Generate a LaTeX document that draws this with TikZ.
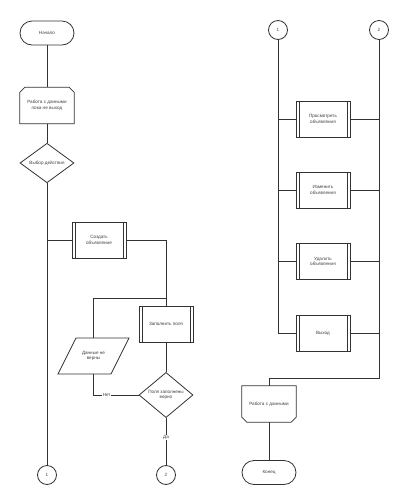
\documentclass[tikz,border=0pt]{standalone}
\usepackage{fontspec}
\setmainfont{Liberation Sans}
\usetikzlibrary{shapes.geometric,calc}
\tikzset{
  ln/.style={draw=black!80, line width=0.8pt},
  txt/.style={font=\fontsize{4.6}{5.6}\selectfont, text=black!75, align=center, inner sep=0pt},
  term/.style={txt, ln, rectangle, rounded corners=12pt, minimum width=54pt, minimum height=24pt},
  proc/.style={txt, ln, rectangle, minimum width=54pt, minimum height=36pt,
    path picture={
      \draw[black!80, line width=0.6pt] ([xshift=3pt]path picture bounding box.north west) -- ([xshift=3pt]path picture bounding box.south west);
      \draw[black!80, line width=0.6pt] ([xshift=-3pt]path picture bounding box.north east) -- ([xshift=-3pt]path picture bounding box.south east);
    }},
  dec/.style={txt, ln, diamond, minimum width=54pt, minimum height=36pt},
  hidden/.style={txt, rectangle, minimum width=54pt, minimum height=36pt},
  conn/.style={txt, ln, circle, minimum size=19pt},
  lab/.style={txt, fill=white, inner sep=0.5pt},
}
\begin{document}
\begin{tikzpicture}[x=1pt,y=-1pt]
\useasboundingbox (0,0) rectangle (407,491);
\fill[white] (0,0) rectangle (407,491);

% ---- left part ----
\node[term] (start) at (47,33) {Начало};
\node[hidden] (loop1) at (47,105.5) {Работа с данными\\пока не выход};
\draw[ln] ($(loop1.south west)$) -- ($(loop1.north west)+(0,5)$) -- ($(loop1.north west)+(5,0)$)
  -- ($(loop1.north east)+(-5,0)$) -- ($(loop1.north east)+(0,5)$) -- (loop1.south east) -- cycle;
\node[dec] (choice) at (47,163) {Выбор действия};
\node[proc] (create) at (99,240) {Создать\\объявление};
\node[proc] (fill) at (166,324) {Заполнить поля};
\node[dec] (check) at (166,395) {Поля заполнены\\верно};
\node[hidden, minimum width=53pt] (bad) at (93.5,356) {Данные не\\верны};
\draw[ln] (76,338) -- (129,338) -- (111,374) -- (58,374) -- cycle;
\node[conn] (c1a) at (47,475) {1};
\node[conn] (c2a) at (166,475) {2};

\coordinate (j1) at (47,240);
\coordinate (j2) at (166,240);
\coordinate (j3) at (166,298);
\coordinate (j4) at (93,298);
\coordinate (j5) at (93,395);

\draw[ln] (start) -- (loop1);
\draw[ln] (loop1) -- (choice);
\draw[ln] (choice) -- (c1a);
\draw[ln] (j1) -- (create);
\draw[ln] (create) -- (j2) -- (fill);
\draw[ln] (j3) -- (j4) -- (93,338);
\draw[ln] (fill) -- (check);
\draw[ln] (93,374) -- (j5) -- node[lab, pos=0.3] {Нет} (check);
\draw[ln] (check) -- node[lab, pos=0.42] {Да} (c2a);

% ---- right part ----
\node[conn] (c1b) at (278,30) {1};
\node[conn] (c2b) at (379,30) {2};
\node[proc] (view) at (323,119) {Просмотреть\\объявления};
\node[proc] (edit) at (323,190) {Изменить\\объявления};
\node[proc] (del) at (323,261.5) {Удалить\\объявления};
\node[proc] (exit) at (323,333) {Выход};
\node[hidden] (loop2) at (269,404) {Работа с данными};
\draw[ln] (loop2.north west) -- (loop2.north east) -- ($(loop2.south east)+(0,-5)$) -- ($(loop2.south east)+(-5,0)$)
  -- ($(loop2.south west)+(5,0)$) -- ($(loop2.south west)+(0,-5)$) -- cycle;
\node[term] (end) at (269,472.5) {Конец};

\coordinate (r1) at (278,333);
\coordinate (r2) at (379,378);
\coordinate (r3) at (269,378);

\draw[ln] (c1b) -- (r1) -- (exit);
\draw[ln] (c2b) -- (r2) -- (r3) -- (loop2);
\foreach \b in {view,edit,del,exit} {
  \draw[ln] (\b.west) -- (278,0 |- \b.west);
  \draw[ln] (\b.east) -- (379,0 |- \b.east);
}
\draw[ln] (loop2) -- (end);
\end{tikzpicture}
\end{document}
